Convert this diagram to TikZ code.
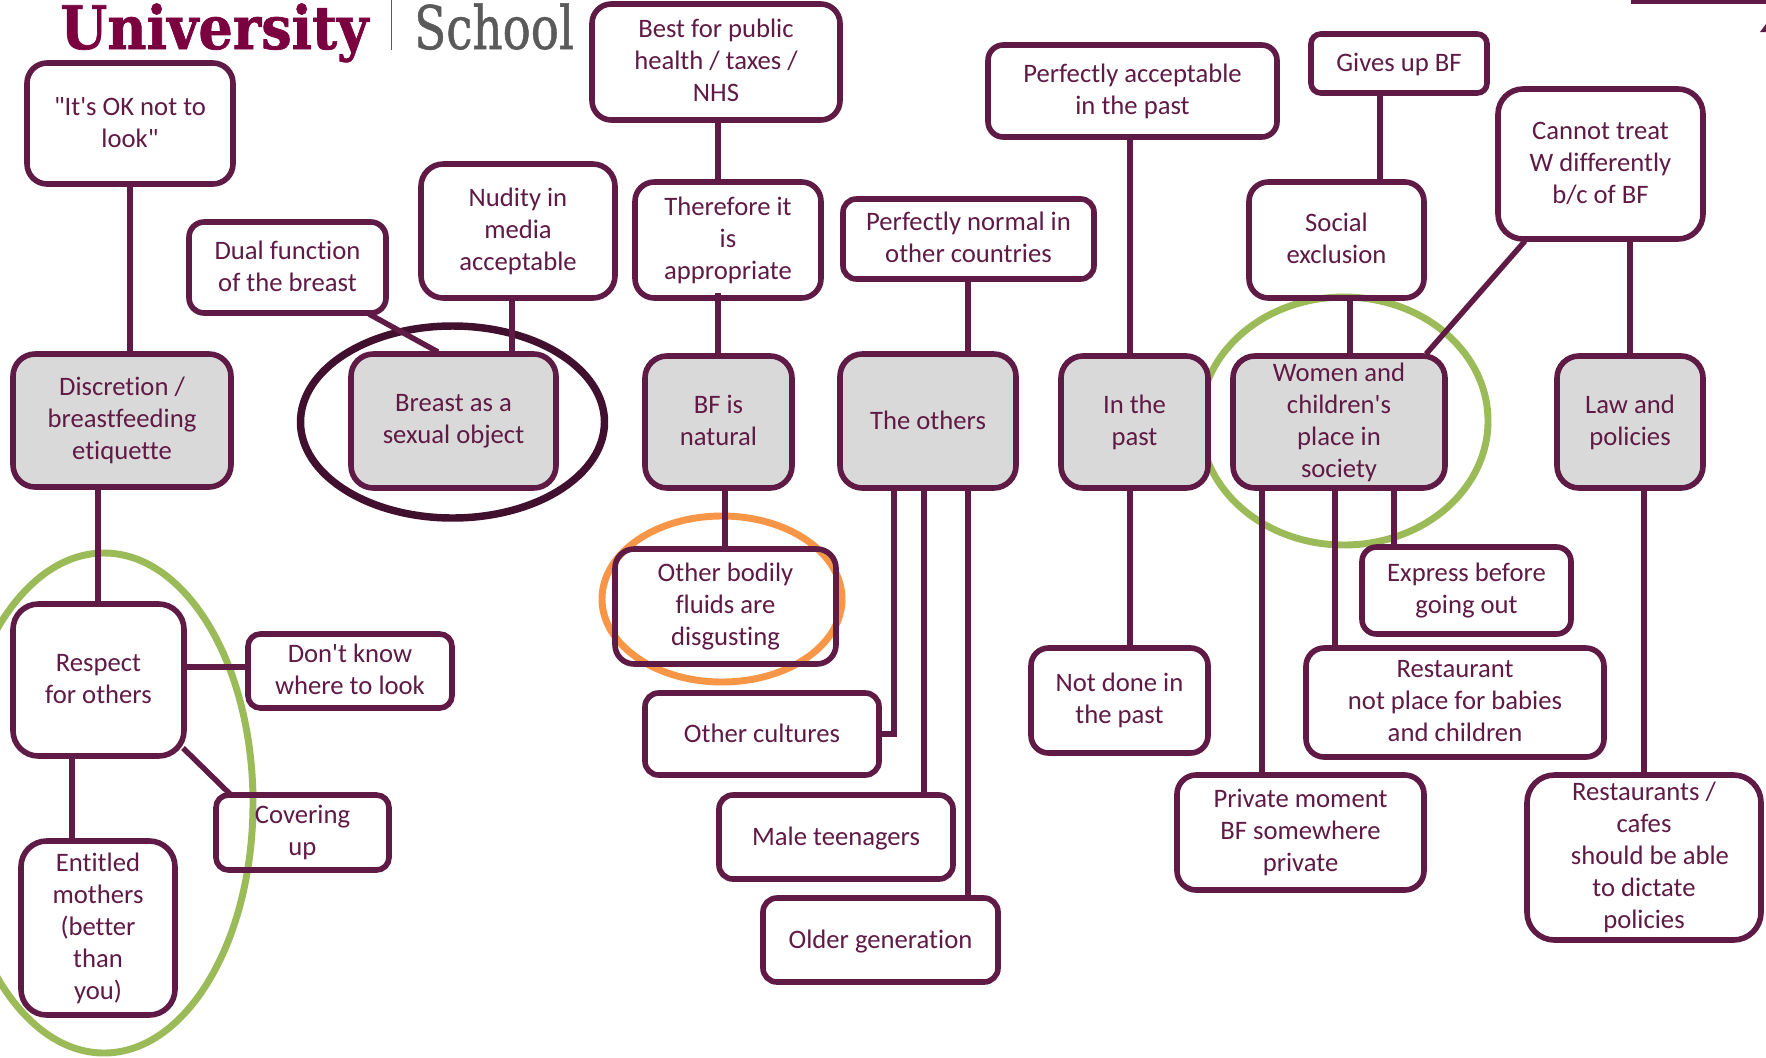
\documentclass[tikz,border=0pt]{standalone}
\usepackage{fontspec}
\setmainfont[Ligatures={TeXOff,CommonOff}]{Carlito}
\newfontfamily\logoheavy[FakeBold=1.2]{DejaVu Serif Bold}
\newfontfamily\logomid[FakeBold=0.9]{DejaVu Serif}
\usetikzlibrary{calc}
\definecolor{plum}{HTML}{5F1A45}
\definecolor{plumdark}{HTML}{40102E}
\definecolor{leaf}{HTML}{9BBB59}
\definecolor{amber}{HTML}{F79646}
\definecolor{panel}{HTML}{D9D9D9}
\definecolor{crest}{HTML}{7A0040}
\definecolor{slate}{HTML}{5A5A5A}
\tikzset{
  conn/.style={draw=plum,line width=4.1pt},
  ringline/.style={line width=5.2pt},
  boxbase/.style={draw=plum,line width=4.2pt,align=center,inner sep=0pt,outer sep=0pt,text=plum,
     font=\fontsize{20pt}{24pt}\selectfont},
  txtm/.style={execute at begin node={\rule{0pt}{23.6pt}},execute at end node={\rule[-2pt]{0pt}{0pt}}},
  txts/.style={execute at begin node={\rule{0pt}{18.3pt}},execute at end node={\rule[-5.7pt]{0pt}{0pt}}},
  plainbox/.style={boxbase,txtm},
  topicbox/.style={boxbase,txtm,fill=panel},
  plainone/.style={boxbase,txts},
  topicone/.style={boxbase,txts,fill=panel}
}
% name, x1, y1, x2, y2, style, text
\newcommand{\bxn}[7]{%
  \pgfmathsetmacro\rrad{0.75*0.1667*min(#4-#2,#5-#3)}%
  \node[#6,rounded corners=\rrad pt,minimum width={0.75pt*(#4-#2)},minimum height={0.75pt*(#5-#3)}]
    (#1) at ({(#2+#4)/2},{(#3+#5)/2}) {#7};}
% from above node to lower node, at x
\newcommand{\vcn}[3]{\draw[conn] (#3,0 |- #1.south) -- (#3,0 |- #2.north);}
\begin{document}
\begin{tikzpicture}[x=0.75pt,y=-0.75pt]
\useasboundingbox (0,0) rectangle (1766,1057);
\clip (0,0) rectangle (1766,1057);
\fill[white] (0,0) rectangle (1766,1057);
% logo
\node[anchor=base west,inner sep=0pt,text=crest,font=\logoheavy\fontsize{45pt}{45pt}\selectfont,transform shape,xscale=0.90] (logoa) at (60,49) {University};
\node[anchor=base west,inner sep=0pt,text=slate,font=\logomid\fontsize{45pt}{45pt}\selectfont,transform shape,xscale=0.78] (logob) at (414,49) {School};
\fill[slate] (390.5,0) rectangle (392,50);
\fill[plum] (1631,0) rectangle (1766,4);
\fill[plum] (1766,24) -- (1766,32) -- (1760,32) -- cycle;
% rings
\draw[ringline,draw=plumdark,line width=5.6pt] (452.5,422) ellipse (152 and 96);
\draw[ringline,draw=leaf] (104,803) ellipse (149 and 250);
\draw[ringline,draw=leaf] (1344,421) ellipse (144 and 124);
\draw[ringline,draw=amber] (722,599) ellipse (120 and 83);
% boxes
\bxn{ok}{27}{63}{233}{184}{plainbox}{"It's OK not to\\look"}
\bxn{best}{592}{4}{840}{120}{plainbox}{Best for public\\health / taxes /\\NHS}
\bxn{nudity}{421}{164}{615}{298}{plainbox}{Nudity in\\media\\acceptable}
\bxn{dual}{189}{222}{386}{313}{plainbox}{Dual function\\of the breast}
\bxn{there}{635}{182}{821}{298}{plainbox}{Therefore it\\is\\appropriate}
\bxn{normal}{843}{199}{1094}{279}{plainbox}{Perfectly normal in\\other countries}
\bxn{accept}{988}{45}{1277}{137}{plainbox}{Perfectly acceptable\\in the past}
\bxn{gives}{1311}{34}{1487}{93}{plainone}{Gives up BF}
\bxn{cannot}{1498}{89}{1703}{239}{plainbox}{Cannot treat\\W differently\\b/c of BF}
\bxn{social}{1249}{182}{1424}{298}{plainbox}{Social\\exclusion}
\bxn{discr}{13}{354}{231}{487}{topicbox}{Discretion /\\breastfeeding\\etiquette}
\bxn{breast}{351}{354}{556}{488}{topicbox}{Breast as a\\sexual object}
\bxn{bfnat}{645}{356}{792}{488}{topicbox}{BF is\\natural}
\bxn{others}{840}{354}{1016}{488}{topicone}{The others}
\bxn{past}{1061}{356}{1208}{488}{topicbox}{In the\\past}
\bxn{women}{1233}{356}{1445}{488}{topicbox}{Women and\\children's\\place in\\society}
\bxn{law}{1557}{356}{1703}{488}{topicbox}{Law and\\policies}
\bxn{respect}{13}{604}{184}{756}{plainbox}{Respect\\for others}
\bxn{dontknow}{248}{634}{452}{708}{plainbox}{Don't know\\where to look}
\bxn{cover}{216}{795}{389}{870}{plainbox}{Covering\\up}
\bxn{entitled}{21}{841}{175}{1015}{plainbox}{Entitled\\mothers\\(better\\than\\you)}
\bxn{fluids}{615}{549}{836}{664}{plainbox}{Other bodily\\fluids are\\disgusting}
\bxn{cultures}{645}{693}{879}{775}{plainone}{Other cultures}
\bxn{male}{719}{795}{953}{879}{plainone}{Male teenagers}
\bxn{older}{763}{898}{998}{982}{plainone}{Older generation}
\bxn{notdone}{1031}{648}{1208}{753}{plainbox}{Not done in\\the past}
\bxn{express}{1362}{547}{1571}{634}{plainbox}{Express before\\going out}
\bxn{rest}{1306}{648}{1604}{757}{plainbox}{Restaurant\\not place for babies\\and children}
\bxn{private}{1177}{775}{1424}{890}{plainbox}{Private moment\\BF somewhere\\private}
\bxn{cafes}{1527}{775}{1761}{940}{plainbox}{Restaurants /\\cafes\\\hspace*{9pt}should be able\\to dictate\\policies}
% connectors
\vcn{ok}{discr}{130}
\vcn{discr}{respect}{98}
\vcn{nudity}{breast}{512}
\vcn{best}{there}{718}
\draw[conn] (718,0 |- there.south) ++(0,-5) -- (718,0 |- bfnat.north);
\vcn{bfnat}{fluids}{725}
\vcn{normal}{others}{968}
\draw[conn] (894,0 |- others.south) |- (cultures.east);
\draw[conn] (924,0 |- others.south) -- ($(924,0 |- male.north)+(0,2)$);
\vcn{others}{older}{968}
\vcn{accept}{past}{1130}
\vcn{past}{notdone}{1130}
\vcn{gives}{social}{1380}
\vcn{social}{women}{1350}
\vcn{cannot}{law}{1630}
\vcn{women}{private}{1262}
\vcn{women}{rest}{1335}
\vcn{women}{express}{1394}
\vcn{law}{cafes}{1644}
\vcn{respect}{entitled}{72}
\draw[conn] ($(dual.south west)+(180,1)$) -- ($(breast.north west)+(87,-2)$);
\draw[conn] ($(cannot.south west)+(27,2)$) -- ($(women.north east)+(-19,-2)$);
\draw[conn] ($(respect.south east)+(-1,-8)$) -- ($(cover.north west)+(15,0)$);
\draw[conn] (respect.east |- 0,667) -- (dontknow.west |- 0,667);
\end{tikzpicture}
\end{document}
